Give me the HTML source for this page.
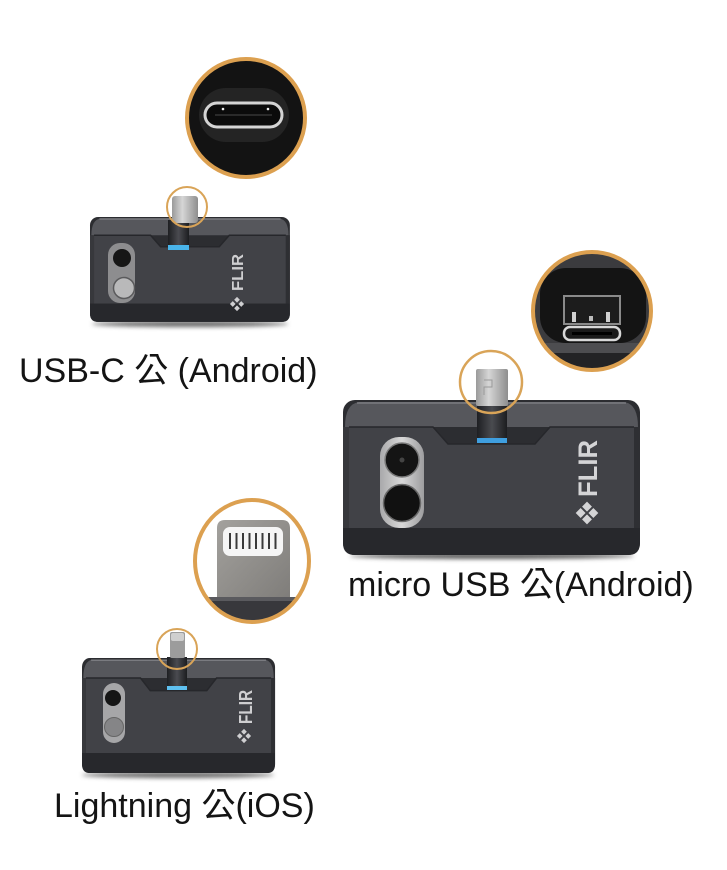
<!DOCTYPE html>
<html><head><meta charset="utf-8"><style>
html,body{margin:0;padding:0;background:#fff;}
svg{display:block;}
</style></head><body>
<svg width="727" height="870" viewBox="0 0 727 870" xmlns="http://www.w3.org/2000/svg">
<defs>
  <linearGradient id="metal" x1="0" y1="0" x2="1" y2="0">
    <stop offset="0" stop-color="#9a9a9a"/><stop offset="0.4" stop-color="#d6d6d6"/><stop offset="1" stop-color="#8e8e8e"/>
  </linearGradient>
  <linearGradient id="stem" x1="0" y1="0" x2="1" y2="0">
    <stop offset="0" stop-color="#1e1f22"/><stop offset="0.5" stop-color="#4a4b50"/><stop offset="1" stop-color="#1c1d20"/>
  </linearGradient>
  <linearGradient id="panel" x1="0" y1="0" x2="1" y2="0">
    <stop offset="0" stop-color="#a9a9ab"/><stop offset="0.5" stop-color="#d8d8d8"/><stop offset="1" stop-color="#9d9d9f"/>
  </linearGradient>
  <linearGradient id="plate" x1="0" y1="0" x2="1" y2="1">
    <stop offset="0" stop-color="#a3a19d"/><stop offset="1" stop-color="#7f7d7a"/>
  </linearGradient>
  <filter id="blur" x="-20%" y="-200%" width="140%" height="500%"><feGaussianBlur stdDeviation="2"/></filter>
  <clipPath id="cMicro"><circle cx="592" cy="311" r="58"/></clipPath>
  <clipPath id="cLight"><ellipse cx="252" cy="561" rx="56" ry="60"/></clipPath>
  <g id="body">
    <rect x="0" y="0" width="297" height="155" rx="12" fill="#2c2d31"/>
    <path d="M2,27 Q2,4 16,2 H281 Q295,4 295,27 Z" fill="#56575c"/>
    <path d="M6,27 H90 L105,44 H192 L207,27 H291 V128 H6 Z" fill="#414247"/>
    <rect x="0" y="27" width="6" height="101" fill="#37383c"/>
    <rect x="291" y="27" width="6" height="101" fill="#2e2f33"/>
    <path d="M0,128 H297 V143 Q297,155 285,155 H12 Q0,155 0,143 Z" fill="#27282c"/>
    <path d="M14,3 H283" stroke="#7a7b80" stroke-width="1.5" vector-effect="non-scaling-stroke"/>
    <path d="M6,27 H90 L105,44 H192 L207,27 H291" stroke="#26272b" stroke-width="1.5" fill="none" vector-effect="non-scaling-stroke"/>
  </g>
</defs>

<!-- ============ Device 1 : USB-C ============ -->
<ellipse cx="190" cy="324" rx="98" ry="3" fill="#6a6a6a" filter="url(#blur)"/>
<use href="#body" transform="translate(90,217) scale(0.673,0.677)"/>
<rect x="168" y="220" width="21" height="30" fill="url(#stem)"/>
<rect x="168" y="245" width="21" height="5" fill="#49b4ea"/>
<rect x="172" y="196" width="26" height="27" rx="3" fill="url(#metal)"/>
<circle cx="187" cy="207" r="20" fill="none" stroke="#d9a458" stroke-width="2"/>
<rect x="108" y="243" width="27" height="60" rx="12" fill="#8d8d8f"/>
<circle cx="122" cy="258" r="9" fill="#161616"/>
<circle cx="124" cy="288" r="10.5" fill="#b9b9ba" stroke="#5a5a5c" stroke-width="1.5"/>
<text transform="translate(243,291) rotate(-90)" font-family="Liberation Sans, sans-serif" font-weight="bold" font-size="16" textLength="37" lengthAdjust="spacingAndGlyphs" fill="#cfcfd1">FLIR</text>
<g transform="translate(237,304) rotate(45)" fill="#cfcfd1">
  <rect x="-5" y="-5" width="4" height="4"/><rect x="1" y="-5" width="4" height="4"/>
  <rect x="-5" y="1" width="4" height="4"/><rect x="1" y="1" width="4" height="4"/>
</g>
<!-- big USB-C circle -->
<circle cx="246" cy="118" r="59" fill="#131313" stroke="#dca050" stroke-width="4"/>
<rect x="199" y="88" width="90" height="54" rx="27" fill="#242424"/>
<rect x="205" y="103" width="77" height="24" rx="12" fill="#0b0b0b" stroke="#d4d4d4" stroke-width="3"/>
<circle cx="223" cy="109" r="1.3" fill="#eee"/><circle cx="268" cy="109" r="1.3" fill="#eee"/>
<path d="M215,115 H272" stroke="#2a2a2a" stroke-width="2"/>

<text x="19" y="382" font-family="Liberation Sans, 'Noto Sans CJK TC', sans-serif" font-size="34" fill="#141414">USB-C 公 (Android)</text>

<!-- ============ Device 2 : micro USB ============ -->
<ellipse cx="492" cy="556" rx="142" ry="3" fill="#5a5a5a" filter="url(#blur)"/>
<use href="#body" transform="translate(343,400)"/>
<rect x="477" y="404" width="30" height="39" fill="url(#stem)"/>
<rect x="477" y="438" width="30" height="5" fill="#3f9fe0"/>
<rect x="476" y="369" width="32" height="37" rx="2" fill="url(#metal)"/>
<path d="M484,380 H492 V387 H484 V395" stroke="#9a9a9a" stroke-width="1" fill="none"/>
<circle cx="491" cy="382" r="31" fill="none" stroke="#d9a458" stroke-width="2.5"/>
<rect x="380" y="437" width="44" height="91" rx="19" fill="url(#panel)"/>
<circle cx="402" cy="460" r="17" fill="#141414" stroke="#7a7a7a" stroke-width="1.5"/>
<circle cx="402" cy="460" r="2.5" fill="#444"/>
<circle cx="402" cy="503" r="18.5" fill="#111" stroke="#6a6a6a" stroke-width="1.5"/>
<text transform="translate(597,497) rotate(-90)" font-family="Liberation Sans, sans-serif" font-weight="bold" font-size="27" textLength="57" lengthAdjust="spacingAndGlyphs" fill="#d4d4d6">FLIR</text>
<g transform="translate(587,513) rotate(45)" fill="#d4d4d6">
  <rect x="-8" y="-8" width="7" height="7"/><rect x="1" y="-8" width="7" height="7"/>
  <rect x="-8" y="1" width="7" height="7"/><rect x="1" y="1" width="7" height="7"/>
</g>
<!-- big micro USB circle -->
<circle cx="592" cy="311" r="59" fill="#3b3b3e"/>
<g clip-path="url(#cMicro)">
  <rect x="540" y="268" width="106" height="75" rx="26" fill="#141414"/>
  <rect x="564" y="296" width="56" height="28" fill="#1c1c1c" stroke="#8a8a8a" stroke-width="2"/>
  <rect x="572" y="312" width="4" height="10" fill="#d0d0d0"/>
  <rect x="606" y="312" width="4" height="10" fill="#d0d0d0"/>
  <rect x="589" y="316" width="4" height="5" fill="#bbb"/>
  <rect x="564" y="327" width="56" height="13" rx="6" fill="#1a1a1a" stroke="#d8d8d8" stroke-width="2.5"/>
  <rect x="572" y="332" width="40" height="3" fill="#000"/>
  <rect x="525" y="343" width="135" height="10" fill="#4d4d50"/>
  <rect x="525" y="353" width="135" height="25" fill="#232325"/>
</g>
<circle cx="592" cy="311" r="59" fill="none" stroke="#dca050" stroke-width="4"/>

<text x="348" y="596" font-family="Liberation Sans, 'Noto Sans CJK TC', sans-serif" font-size="34" fill="#141414">micro USB 公(Android)</text>

<!-- ============ Device 3 : Lightning ============ -->
<ellipse cx="178" cy="775" rx="96" ry="3" fill="#6a6a6a" filter="url(#blur)"/>
<use href="#body" transform="translate(82,658) scale(0.65,0.742)"/>
<rect x="167" y="657" width="20" height="33" fill="url(#stem)"/>
<rect x="167" y="686" width="20" height="4" fill="#5ec0f0"/>
<rect x="170" y="632" width="15" height="26" rx="2" fill="#9c9c9c"/>
<rect x="171" y="633" width="13" height="8" rx="2" fill="#cfcfcf"/>
<circle cx="177" cy="649" r="20" fill="none" stroke="#d9a458" stroke-width="2"/>
<rect x="103" y="683" width="22" height="60" rx="11" fill="#a6a6a8"/>
<circle cx="113" cy="698" r="8" fill="#151515"/>
<circle cx="114" cy="727" r="9.5" fill="#858587" stroke="#666" stroke-width="1"/>
<text transform="translate(252,724) rotate(-90)" font-family="Liberation Sans, sans-serif" font-weight="bold" font-size="18" textLength="34" lengthAdjust="spacingAndGlyphs" fill="#cfcfd1">FLIR</text>
<g transform="translate(244,736) rotate(45)" fill="#cfcfd1">
  <rect x="-5" y="-5" width="4" height="4"/><rect x="1" y="-5" width="4" height="4"/>
  <rect x="-5" y="1" width="4" height="4"/><rect x="1" y="1" width="4" height="4"/>
</g>
<!-- big lightning circle -->
<ellipse cx="252" cy="561" rx="57" ry="61" fill="#fff"/>
<g clip-path="url(#cLight)">
  <path d="M217,598 V528 Q217,520 225,520 H282 Q290,520 290,528 V598 Z" fill="url(#plate)"/>
  <rect x="223" y="527" width="60" height="29" rx="7" fill="#f5f5f5"/>
  <g stroke="#3a3a3a" stroke-width="2">
    <path d="M230,533 V549"/><path d="M236.5,533 V549"/><path d="M243,533 V549"/><path d="M249.5,533 V549"/>
    <path d="M256,533 V549"/><path d="M262.5,533 V549"/><path d="M269,533 V549"/><path d="M275.5,533 V549"/>
  </g>
  <rect x="190" y="597" width="125" height="4" fill="#5a5a5e"/>
  <rect x="190" y="601" width="125" height="30" fill="#38383c"/>
</g>
<ellipse cx="252" cy="561" rx="57" ry="61" fill="none" stroke="#dca050" stroke-width="4"/>

<text x="54" y="817" font-family="Liberation Sans, 'Noto Sans CJK TC', sans-serif" font-size="34" fill="#141414">Lightning 公(iOS)</text>
</svg>
</body></html>
